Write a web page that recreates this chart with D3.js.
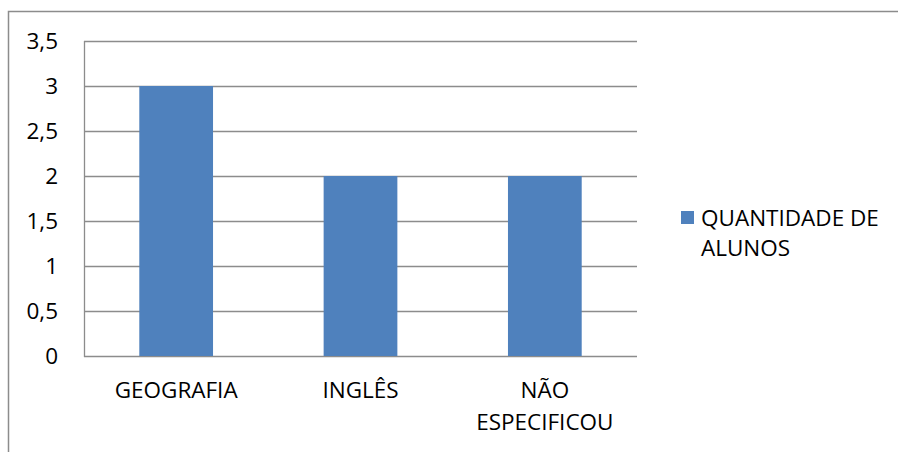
<!DOCTYPE html>
<html>
<head>
<meta charset="utf-8">
<script src="https://cdn.jsdelivr.net/npm/d3@7"></script>
<style>
  html, body { margin: 0; padding: 0; background: #fff; }
  svg text { font-family: "Open Sans", "Noto Sans", sans-serif; fill: #000; font-size: 22.5px; }
</style>
</head>
<body>
<svg id="chart" width="898" height="452"></svg>
<script>
// Data
const categories = ["GEOGRAFIA", "INGLÊS", "NÃO ESPECIFICOU"];
const values = [3, 2, 2];
const yTicks = [0, 0.5, 1, 1.5, 2, 2.5, 3, 3.5];
const seriesName = "QUANTIDADE DE ALUNOS";

const svg = d3.select("#chart");
const gray = "#8c8c8c";
const barColor = "#4f81bd";

// Outer chart frame (continues past the right and bottom edges)
svg.append("path")
  .attr("d", "M8.5,460 V11.5 H905")
  .attr("fill", "none")
  .attr("stroke", gray)
  .attr("stroke-width", 1.5);

const plot = { left: 84, right: 637, top: 41, bottom: 356 };

const x = d3.scaleBand().domain(categories).range([plot.left, plot.right]).padding(0);
const y = d3.scaleLinear().domain([0, 3.5]).range([plot.bottom, plot.top]);

// Horizontal gridlines
svg.append("g").selectAll("line").data(yTicks).join("line")
  .attr("x1", plot.left).attr("x2", plot.right)
  .attr("y1", d => Math.round(y(d)) + 0.5).attr("y2", d => Math.round(y(d)) + 0.5)
  .attr("stroke", gray).attr("stroke-width", 1.3);

// Left axis line
svg.append("line")
  .attr("x1", plot.left + 0.5).attr("x2", plot.left + 0.5)
  .attr("y1", plot.top).attr("y2", plot.bottom + 1)
  .attr("stroke", gray).attr("stroke-width", 1.3);

// Y tick labels
const fmt = d => String(d).replace(".", ",");
svg.append("g").selectAll("text").data(yTicks).join("text")
  .attr("x", 58).attr("y", d => y(d))
  .attr("dy", "0.36em")
  .attr("text-anchor", "end")
  .text(fmt);

// Bars
const barW = x.bandwidth() * 0.4;
svg.append("g").selectAll("rect").data(values).join("rect")
  .attr("x", (d, i) => x(categories[i]) + x.bandwidth() / 2 - barW / 2)
  .attr("width", barW)
  .attr("y", d => y(d))
  .attr("height", d => y(0) - y(d))
  .attr("fill", barColor);

// X category labels (wrapped onto two lines where needed)
const xl = svg.append("g");
categories.forEach(c => {
  const words = c === "NÃO ESPECIFICOU" ? ["NÃO", "ESPECIFICOU"] : [c];
  const cx = x(c) + x.bandwidth() / 2;
  const t = xl.append("text")
    .attr("text-anchor", "middle")
    .attr("x", cx)
    .attr("y", 398);
  words.forEach((w, i) => {
    t.append("tspan").attr("x", cx).attr("dy", i === 0 ? 0 : 32).text(w);
  });
});

// Legend
const lg = svg.append("g");
lg.append("rect").attr("x", 681).attr("y", 211).attr("width", 13).attr("height", 13).attr("fill", barColor);
const lt = lg.append("text").attr("x", 701).attr("y", 226);
["QUANTIDADE DE", "ALUNOS"].forEach((w, i) => {
  lt.append("tspan").attr("x", 701).attr("dy", i === 0 ? 0 : 30).text(w);
});
</script>
</body>
</html>
